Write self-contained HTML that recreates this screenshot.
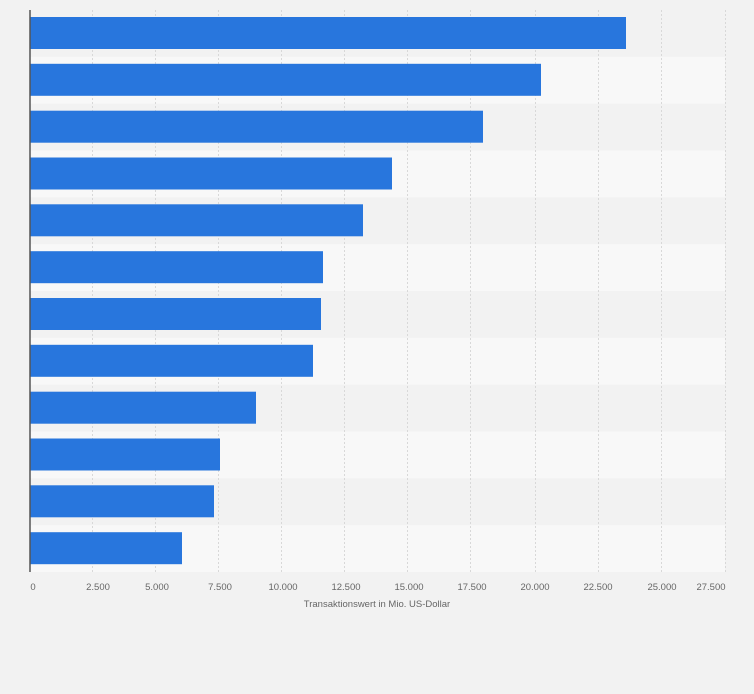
<!DOCTYPE html><html><head><style>body{margin:0;background:#f2f2f2;width:754px;height:689px;overflow:hidden}</style></head><body>
<svg width="754" height="689" xmlns="http://www.w3.org/2000/svg" font-family="Liberation Sans, sans-serif">
<rect width="754" height="689" fill="#f2f2f2"/>
<g fill="#f8f8f8">
<rect x="30" y="56.8" width="695" height="46.8"/><rect x="30" y="150.5" width="695" height="46.8"/><rect x="30" y="244.2" width="695" height="46.8"/><rect x="30" y="337.8" width="695" height="46.8"/><rect x="30" y="431.5" width="695" height="46.8"/><rect x="30" y="525.2" width="695" height="46.8"/>
</g>
<g stroke="#d8d8d8" stroke-dasharray="2,2" stroke-width="1">
<line x1="92.5" y1="10" x2="92.5" y2="572"/><line x1="155.5" y1="10" x2="155.5" y2="572"/><line x1="218.5" y1="10" x2="218.5" y2="572"/><line x1="281.5" y1="10" x2="281.5" y2="572"/><line x1="344.5" y1="10" x2="344.5" y2="572"/><line x1="407.5" y1="10" x2="407.5" y2="572"/><line x1="470.5" y1="10" x2="470.5" y2="572"/><line x1="535.5" y1="10" x2="535.5" y2="572"/><line x1="598.5" y1="10" x2="598.5" y2="572"/><line x1="661.5" y1="10" x2="661.5" y2="572"/><line x1="725.5" y1="10" x2="725.5" y2="572"/>
</g>
<g fill="#2876dd">
<rect x="30" y="17" width="596" height="32"/>
<rect x="30" y="63.8" width="511" height="32"/>
<rect x="30" y="110.7" width="453" height="32"/>
<rect x="30" y="157.5" width="362" height="32"/>
<rect x="30" y="204.3" width="333" height="32"/>
<rect x="30" y="251.2" width="293" height="32"/>
<rect x="30" y="298" width="291" height="32"/>
<rect x="30" y="344.8" width="283" height="32"/>
<rect x="30" y="391.7" width="226" height="32"/>
<rect x="30" y="438.5" width="190" height="32"/>
<rect x="30" y="485.3" width="184" height="32"/>
<rect x="30" y="532.2" width="152" height="32"/>
</g>
<line x1="30" y1="10" x2="30" y2="572" stroke="#555" stroke-width="1.5"/>
<g font-size="9.5" fill="#666" text-anchor="middle">
<text x="33" y="590">0</text><text x="98" y="590">2.500</text><text x="157" y="590">5.000</text><text x="220" y="590">7.500</text><text x="283" y="590">10.000</text><text x="346" y="590">12.500</text><text x="409" y="590">15.000</text><text x="472" y="590">17.500</text><text x="535" y="590">20.000</text><text x="598" y="590">22.500</text><text x="662" y="590">25.000</text><text x="711" y="590">27.500</text>
<text x="377" y="607">Transaktionswert in Mio. US-Dollar</text>
</g>
</svg></body></html>
